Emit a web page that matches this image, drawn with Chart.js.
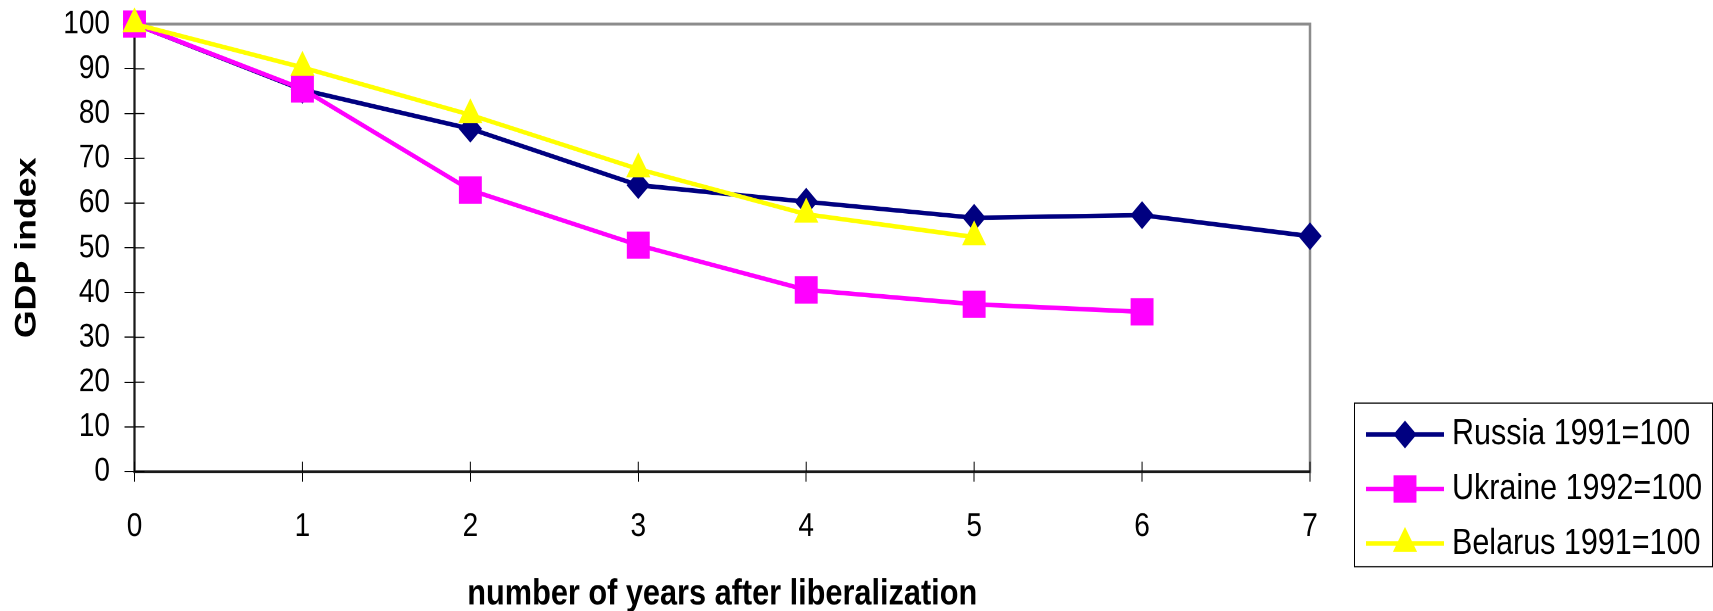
<!DOCTYPE html>
<html>
<head>
    <script src="https://cdn.jsdelivr.net/npm/chart.js@4.4.1/dist/chart.umd.min.js"></script>
    <style>
        body { margin: 0; background: #fff; }
        .page { width: 1713px; height: 611px; overflow: hidden; }
        /* the original chart is stretched vertically, text included */
        .chartBox { width: 1713px; height: 513px; transform: scaleY(1.191); transform-origin: 0 0; }
    </style>
</head>
<body>

<div class="page">
    <div class="chartBox">
        <canvas id="gdpChart"></canvas>
    </div>
</div>

<script>
    // values
    const years = ['0', '1', '2', '3', '4', '5', '6', '7'];
    const russia = [100, 85.3, 76.6, 64.0, 60.3, 56.7, 57.3, 52.6];
    const ukraine = [100, 85.5, 62.9, 50.6, 40.6, 37.4, 35.7];
    const belarus = [100, 90.3, 79.7, 67.6, 57.5, 52.4];
    const seriesNames = ['Russia 1991=100', 'Ukraine 1992=100', 'Belarus 1991=100'];

    const FONT = '"Liberation Sans", Arial, sans-serif';
    Chart.defaults.font.family = FONT;
    Chart.defaults.color = '#000';

    // grey frame round the plot area (drawn before the axes)
    const plotFrame = {
        id: 'plotFrame',
        beforeDraw(chart) {
            const {ctx, chartArea: a} = chart;
            ctx.save();
            ctx.strokeStyle = '#8c8c8c';
            ctx.lineWidth = 2.5;
            ctx.strokeRect(a.left, a.top, a.right - a.left, a.bottom - a.top);
            ctx.restore();
        }
    };

    // tick marks cross the axis, so add the inner half
    const innerTicks = {
        id: 'innerTicks',
        beforeDatasetsDraw(chart) {
            const {ctx, chartArea: a, scales: {x, y}} = chart;
            ctx.save();
            ctx.strokeStyle = '#000';
            ctx.lineWidth = 1;
            ctx.beginPath();
            x.ticks.forEach((t, i) => {
                const px = x.getPixelForTick(i);
                ctx.moveTo(px, a.bottom);
                ctx.lineTo(px, a.bottom - 8.4);
            });
            y.ticks.forEach((t, i) => {
                const py = y.getPixelForTick(i);
                ctx.moveTo(a.left, py);
                ctx.lineTo(a.left + 10, py);
            });
            ctx.stroke();
            ctx.restore();
        }
    };

    // boxed legend bottom right, like the original
    const boxLegend = {
        id: 'boxLegend',
        afterDraw(chart) {
            const ctx = chart.ctx;
            const left = 1354, top = 338.4, w = 358, h = 137.4;
            ctx.save();
            ctx.strokeStyle = '#000';
            ctx.lineWidth = 1;
            ctx.strokeRect(left + 0.5, top, w, h);
            ctx.font = '30.5px ' + FONT;
            ctx.textBaseline = 'middle';
            chart.data.datasets.forEach((ds, i) => {
                const yy = top + 26.4 + i * 45.8;
                ctx.strokeStyle = ds.borderColor;
                ctx.lineWidth = ds.borderWidth;
                ctx.beginPath();
                ctx.moveTo(left + 12, yy);
                ctx.lineTo(left + 90, yy);
                ctx.stroke();
                ctx.fillStyle = ds.pointBackgroundColor;
                ctx.strokeStyle = ds.pointBorderColor;
                ctx.lineWidth = 1;
                Chart.helpers.drawPoint(ctx, {
                    pointStyle: ds.pointStyle, radius: ds.pointRadius, rotation: 0, borderWidth: 1
                }, left + 51, yy);
                ctx.fillStyle = '#000';
                ctx.fillText(ds.label, left + 98, yy);
            });
            ctx.restore();
        }
    };

    const data = {
        labels: years,
        datasets: [{
            label: seriesNames[0],
            data: russia,
            borderColor: '#000080',
            backgroundColor: '#000080',
            pointBackgroundColor: '#000080',
            pointBorderColor: '#000080',
            pointStyle: 'rectRot',
            pointRadius: 11,
            borderWidth: 3.8,
            order: 3
        }, {
            label: seriesNames[1],
            data: ukraine,
            borderColor: '#ff00ff',
            backgroundColor: '#ff00ff',
            pointBackgroundColor: '#ff00ff',
            pointBorderColor: '#ff00ff',
            pointStyle: 'rect',
            pointRadius: 15.5,
            borderWidth: 3.8,
            order: 2
        }, {
            label: seriesNames[2],
            data: belarus,
            borderColor: '#ffff00',
            backgroundColor: '#ffff00',
            pointBackgroundColor: '#ffff00',
            pointBorderColor: '#ffff00',
            pointStyle: 'triangle',
            pointRadius: 13,
            borderWidth: 3.8,
            order: 1
        }]
    };

    const config = {
        type: 'line',
        data,
        options: {
            responsive: true,
            maintainAspectRatio: false,
            animation: false,
            devicePixelRatio: 2,
            datasets: { line: { tension: 0, clip: false, pointBorderWidth: 1 } },
            layout: { padding: { top: 20.15, right: 403, bottom: 0, left: 0 } },
            plugins: {
                legend: { display: false },
                tooltip: { enabled: false }
            },
            scales: {
                x: {
                    offset: false,
                    ticks: { color: '#000', font: { size: 28 }, padding: 21.3, autoSkip: false, maxRotation: 0 },
                    grid: { drawOnChartArea: false, tickLength: 8.4, color: '#000', offset: false },
                    border: { color: '#1a1a1a', width: 2 },
                    title: {
                        display: true,
                        text: 'number of years after liberalization',
                        color: '#000',
                        font: { size: 30.7, weight: 'bold', lineHeight: 0.9 },
                        padding: { top: 0, bottom: 0 }
                    },
                    afterFit(scale) { scale.height = 117; }
                },
                y: {
                    min: 0,
                    max: 100,
                    ticks: { stepSize: 10, color: '#000', font: { size: 28 }, padding: 14.5, autoSkip: false },
                    grid: { drawOnChartArea: false, tickLength: 10, color: '#000' },
                    border: { color: '#1a1a1a', width: 2 },
                    title: {
                        display: true,
                        text: 'GDP index',
                        color: '#000',
                        font: { size: 30, weight: 'bold' },
                        padding: { top: 9, bottom: 0 }
                    },
                    afterFit(scale) {
                        scale.width = 134.5;
                        // keep the plot top where the layout padding puts it
                        scale.paddingTop = 0;
                        scale.paddingBottom = 0;
                    }
                }
            }
        },
        plugins: [plotFrame, innerTicks, boxLegend]
    };

    const gdpChart = new Chart(document.getElementById('gdpChart'), config);
</script>

</body>
</html>
